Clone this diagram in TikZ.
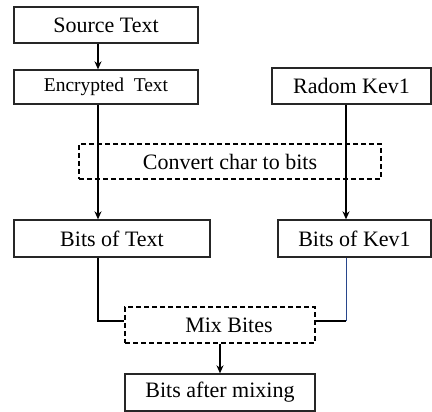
\documentclass[tikz,border=0pt]{standalone}
\usepackage{fontspec}
\setmainfont{Liberation Serif}
\usetikzlibrary{arrows.meta}
\begin{document}
\begin{tikzpicture}[x=1pt,y=1pt,
  box/.style={draw=black!85, line width=1.3pt, inner sep=0pt, font=\fontsize{22}{24}\selectfont},
  dbox/.style={box, draw=black, dashed, dash pattern=on 5pt off 3pt, line width=1.2pt},
  arr/.style={line width=1.3pt, -{Stealth[length=8pt,width=7pt]}},
  ln/.style={line width=1.3pt},
  bln/.style={line width=1pt, draw={rgb,255:red,40;green,70;blue,140}}]
\useasboundingbox (0,0) rectangle (432,412);
\node[box, minimum width=184pt, minimum height=36pt] (src) at (106,387) {Source Text};
\node[box, minimum width=184pt, minimum height=34pt, font=\fontsize{19.5}{22}\selectfont] (enc) at (106,325) {Encrypted~ Text};
\node[box, minimum width=159pt, minimum height=36pt] (key) at (351.5,326) {Radom Kev1};
\node[box, minimum width=196pt, minimum height=37pt] (bt) at (112,173.5) {Bits of Text};
\node[box, minimum width=153pt, minimum height=37pt] (bk) at (354.5,173.5) {Bits of Kev1};
\coordinate (xl) at (98,0);
\coordinate (xr) at (346,0);
\coordinate (xm) at (220,0);
\draw[arr] (src.south -| xl) -- (enc.north -| xl);
\draw[arr] (enc.south -| xl) -- (bt.north -| xl);
\draw[arr] (key.south -| xr) -- (bk.north -| xr);
\node[dbox, minimum width=302pt, minimum height=35pt] (conv) at (230,250.5) {Convert char to bits};
\node[dbox, minimum width=190pt, minimum height=36pt] (mix) at (220,87) {\hspace*{18pt}Mix Bites};
\node[box, minimum width=190pt, minimum height=37pt] (aft) at (220,19.5) {Bits after mixing};
\coordinate (cl) at (98,91);
\coordinate (cr) at (346,91);
\draw[ln] (bt.south -| xl) -- (cl) -- (cl -| mix.west);
\draw[bln] (bk.south -| xr) -- (cr);
\draw[ln] (cr) -- (cr -| mix.east);
\draw[arr] (mix.south) -- (aft.north);
\end{tikzpicture}
\end{document}
